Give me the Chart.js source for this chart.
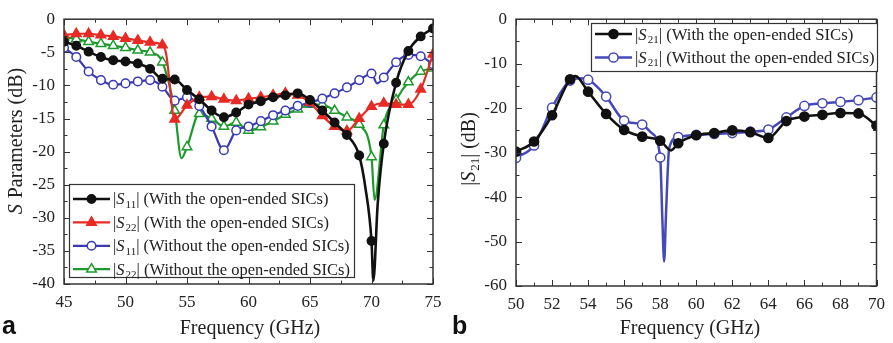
<!DOCTYPE html>
<html>
<head>
<meta charset="utf-8">
<script src="https://cdn.jsdelivr.net/npm/chart.js@4.4.1/dist/chart.umd.min.js"></script>
<style>
  html, body { margin: 0; padding: 0; background: #fff; }
  #wrap { position: relative; width: 893px; height: 343px; overflow: hidden; }
  canvas { position: absolute; top: 0; }
  #chartA { left: 0; }
  #chartB { left: 450px; }
</style>
</head>
<body>
<div id="wrap">
  <canvas id="chartA" width="450" height="343"></canvas>
  <canvas id="chartB" width="443" height="343"></canvas>
</div>
<script>
// ---- panel (a): reflection, frequency in GHz, values in dB ----
const s11WithFreq = [45, 46, 47, 48, 49, 50, 51, 52, 53, 54, 55, 56, 57, 58, 59, 60, 61, 62, 63, 64, 65, 66, 67, 68, 69, 69.5, 70, 70.15, 70.5, 71, 72, 73, 74, 75];
const s11WithDb = [-3.4, -4.0, -4.9, -5.7, -6.2, -6.4, -6.7, -7.5, -9.0, -9.1, -10.7, -12.1, -13.8, -14.8, -14.1, -12.9, -12.4, -11.8, -11.5, -11.2, -12.2, -13.8, -15.6, -17.5, -20.6, -25.4, -33.5, -39.5, -28.0, -18.8, -9.6, -4.8, -2.6, -1.4];

const s22WithFreq = [45, 46, 47, 48, 49, 50, 51, 52, 53, 53.3, 54, 55, 56, 57, 58, 59, 60, 61, 62, 63, 64, 65, 66, 67, 68, 69, 70, 71, 72, 73, 74, 75];
const s22WithDb = [-2.4, -2.2, -2.2, -2.4, -2.6, -2.9, -3.2, -3.5, -3.9, -5.2, -15.1, -13.0, -11.8, -11.7, -12.1, -12.3, -12.0, -11.8, -11.5, -11.2, -11.5, -12.6, -14.6, -16.2, -16.9, -15.0, -13.2, -12.7, -12.9, -12.9, -10.6, -5.3];

const s11WithoutFreq = [45, 46, 47, 48, 49, 50, 51, 52, 53, 54, 55, 56, 57, 58, 59, 60, 61, 62, 63, 64, 65, 66, 67, 68, 69, 70, 70.45, 71, 72, 73, 74, 75];
const s11WithoutDb = [-4.3, -5.7, -7.9, -9.2, -9.9, -9.7, -9.4, -9.2, -10.2, -12.3, -11.8, -13.1, -16.2, -19.8, -16.8, -16.2, -15.4, -14.5, -13.8, -13.1, -12.6, -12.0, -11.2, -10.3, -9.2, -8.2, -9.7, -8.8, -6.5, -5.4, -5.6, -6.8];

const s22WithoutFreq = [45, 46, 47, 48, 49, 50, 51, 52, 53, 54, 54.55, 55, 56, 57, 58, 59, 60, 61, 62, 63, 64, 65, 66, 67, 68, 69, 70, 70.25, 71, 72, 73, 74, 75];
const s22WithoutDb = [-2.7, -3.0, -3.4, -3.7, -4.0, -4.3, -4.7, -5.0, -6.5, -13.8, -21.0, -19.3, -14.3, -15.0, -16.2, -15.6, -16.8, -16.3, -15.4, -14.4, -13.6, -12.9, -12.9, -13.8, -14.8, -15.9, -20.8, -27.3, -16.0, -12.2, -9.5, -7.9, -7.4];

const labelsA = [
  "|S11| (With the open-ended SICs)",
  "|S22| (With the open-ended SICs)",
  "|S11| (Without the open-ended SICs)",
  "|S22| (Without the open-ended SICs)",
];
const xTicksA = [45, 50, 55, 60, 65, 70, 75];
const yTicksA = [0, -5, -10, -15, -20, -25, -30, -35, -40];

// ---- panel (b): transmission ----
const s21WithFreq = [50, 51, 52, 53, 53.3, 54, 55, 56, 57, 58, 58.6, 59, 60, 61, 62, 63, 64, 65, 66, 67, 68, 69, 70];
const s21WithDb = [-29.8, -27.5, -21.6, -13.5, -12.8, -16.3, -21.3, -24.9, -26.4, -27.3, -29.5, -27.9, -26.1, -25.6, -25.0, -25.4, -26.7, -22.9, -21.9, -21.5, -21.1, -21.2, -23.9];

const s21WithoutFreq = [50, 51, 52, 53, 53.5, 54, 55, 56, 57, 57.5, 58, 58.12, 58.22, 58.32, 58.5, 59, 60, 61, 62, 63, 64, 65, 66, 67, 68, 69, 70];
const s21WithoutDb = [-31.2, -28.4, -19.9, -13.8, -13.3, -13.6, -17.4, -22.8, -23.7, -25.5, -31.1, -45.0, -54.5, -44.0, -29.0, -26.5, -26.0, -25.8, -25.6, -25.3, -24.8, -22.1, -19.5, -18.9, -18.6, -18.2, -17.6];

const labelsB = [
  "|S21| (With the open-ended SICs)",
  "|S21| (Without the open-ended SICs)",
];
const xTicksB = [50, 52, 54, 56, 58, 60, 62, 64, 66, 68, 70];
const yTicksB = [0, -10, -20, -30, -40, -50, -60];

const xTitle = "Frequency (GHz)";
const yTitleA = "S Parameters (dB)";
const yTitleB = "|S21| (dB)";

const SERIF = '"Liberation Serif", "Times New Roman", serif';

const toPoints = (xs, ys) => xs.map((x, i) => ({ x, y: ys[i] }));

// markers only on the whole-GHz samples, extra samples just shape the curve
function series(label, xs, ys, color, style, filled, width, r) {
  return {
    label,
    data: toPoints(xs, ys),
    borderColor: color,
    borderWidth: width,
    backgroundColor: color,
    pointStyle: style,
    markerRadius: r,
    pointRadius: (ctx) => (ctx.raw && Number.isInteger(ctx.raw.x) ? r : 0),
    pointHoverRadius: 0,
    pointBorderWidth: 1.5,
    pointBorderColor: color,
    pointBackgroundColor: filled ? color : "#fff",
    cubicInterpolationMode: "monotone",
    fill: false,
  };
}

// "S" italic, digits after it as subscript
function richParts(str) {
  const parts = [];
  const re = /\bS(\d*)(?![A-Za-z])/g;
  let last = 0, m;
  while ((m = re.exec(str))) {
    if (m.index > last) parts.push({ t: str.slice(last, m.index) });
    parts.push({ t: "S", italic: true });
    if (m[1]) parts.push({ t: m[1], sub: true });
    last = re.lastIndex;
  }
  if (last < str.length) parts.push({ t: str.slice(last) });
  return parts;
}

function drawRich(ctx, str, x, y, size, align) {
  const parts = richParts(str);
  const fontOf = (p) => (p.italic ? "italic " : "") + (p.sub ? Math.round(size * 0.66) : size) + "px " + SERIF;
  let w = 0;
  parts.forEach((p) => {
    ctx.font = fontOf(p);
    p.w = ctx.measureText(p.t).width + (p.italic ? 1 : 0);
    w += p.w;
  });
  let cx = align === "center" ? x - w / 2 : x;
  ctx.textAlign = "left";
  ctx.textBaseline = "alphabetic";
  const base = y + size * 0.33;
  parts.forEach((p) => {
    ctx.font = fontOf(p);
    ctx.fillText(p.t, cx, base + (p.sub ? size * 0.2 : 0));
    cx += p.w;
  });
}

function drawMarker(ctx, ds, x, y) {
  const r = ds.markerRadius;
  ctx.beginPath();
  if (ds.pointStyle === "triangle") {
    ctx.moveTo(x, y - r);
    ctx.lineTo(x + r * 0.866, y + r * 0.5);
    ctx.lineTo(x - r * 0.866, y + r * 0.5);
    ctx.closePath();
  } else {
    ctx.arc(x, y, r, 0, Math.PI * 2);
  }
  ctx.fillStyle = ds.pointBackgroundColor;
  ctx.fill();
  ctx.lineWidth = ds.pointBorderWidth;
  ctx.strokeStyle = ds.pointBorderColor;
  ctx.stroke();
}

const isMajor = (v, step) => Math.abs(v / step - Math.round(v / step)) < 1e-6;

// box around the plot with inward ticks on all four sides
const framePlugin = {
  id: "frame",
  afterDraw(chart, args, opts) {
    const { ctx, chartArea: a } = chart;
    const { x, y } = chart.scales;
    ctx.save();
    ctx.strokeStyle = "#333";
    ctx.lineWidth = 1;
    ctx.beginPath();
    for (let v = x.min; v <= x.max + 1e-9; v += opts.xMinor) {
      const px = Math.round(x.getPixelForValue(v)) + 0.5;
      const len = isMajor(v, opts.xMajor) ? 6 : 3.5;
      ctx.moveTo(px, a.bottom); ctx.lineTo(px, a.bottom - len);
      ctx.moveTo(px, a.top); ctx.lineTo(px, a.top + len);
    }
    for (let v = y.min; v <= y.max + 1e-9; v += opts.yMinor) {
      const py = Math.round(y.getPixelForValue(v)) + 0.5;
      const len = isMajor(v, opts.yMajor) ? 6 : 3.5;
      ctx.moveTo(a.left, py); ctx.lineTo(a.left + len, py);
      ctx.moveTo(a.right, py); ctx.lineTo(a.right - len, py);
    }
    ctx.stroke();
    ctx.lineWidth = 1.5;
    ctx.strokeRect(a.left, a.top, a.right - a.left, a.bottom - a.top);
    ctx.restore();
  },
};

// legend box, axis titles and panel letter
const panelPlugin = {
  id: "panel",
  afterDraw(chart, args, opts) {
    const ctx = chart.ctx;
    ctx.save();
    const lg = opts.legend;
    ctx.fillStyle = "#fff";
    ctx.fillRect(lg.left, lg.top, lg.width, lg.height);
    ctx.strokeStyle = "#333";
    ctx.lineWidth = 1.2;
    ctx.strokeRect(lg.left + 0.5, lg.top + 0.5, lg.width, lg.height);
    chart.data.datasets.forEach((ds, i) => {
      const cy = lg.top + lg.firstRow + i * lg.rowGap;
      const x0 = lg.left + 4;
      ctx.strokeStyle = ds.borderColor;
      ctx.lineWidth = ds.borderWidth;
      ctx.beginPath();
      ctx.moveTo(x0, cy);
      ctx.lineTo(x0 + lg.sample, cy);
      ctx.stroke();
      drawMarker(ctx, ds, x0 + lg.sample / 2, cy);
      ctx.fillStyle = "#222";
      drawRich(ctx, ds.label, x0 + lg.sample + 3, cy, lg.font, "left");
    });

    ctx.fillStyle = "#222";
    drawRich(ctx, xTitle, opts.xTitle.x, opts.xTitle.y, 20, "center");
    ctx.save();
    ctx.translate(opts.yTitle.x, opts.yTitle.y);
    ctx.rotate(-Math.PI / 2);
    drawRich(ctx, opts.yTitle.text, 0, 0, 20, "center");
    ctx.restore();

    ctx.fillStyle = "#111";
    ctx.font = 'bold 25px "Liberation Sans", Arial, sans-serif';
    ctx.textAlign = "left";
    ctx.textBaseline = "alphabetic";
    ctx.fillText(opts.letter.text, opts.letter.x, opts.letter.y);
    ctx.restore();
  },
};

function makeChart(id, datasets, cfg) {
  const tickFont = { family: SERIF, size: 17 };
  return new Chart(document.getElementById(id), {
    type: "line",
    data: { datasets },
    options: {
      responsive: false,
      animation: false,
      devicePixelRatio: 1,
      layout: { padding: { top: cfg.top, right: cfg.right, left: 0, bottom: 0 } },
      plugins: {
        legend: { display: false },
        tooltip: { enabled: false },
        frame: cfg.frame,
        panel: cfg.panel,
      },
      scales: {
        x: {
          type: "linear",
          min: Math.min(...cfg.xTicks),
          max: Math.max(...cfg.xTicks),
          grid: { display: false, drawTicks: false },
          border: { display: false },
          ticks: { font: tickFont, color: "#222", padding: 8, maxRotation: 0, autoSkip: false, callback: (v) => String(v) },
          afterBuildTicks: (s) => { s.ticks = cfg.xTicks.map((v) => ({ value: v })); },
          afterFit: (s) => { s.height = cfg.xAxisH; },
        },
        y: {
          type: "linear",
          min: Math.min(...cfg.yTicks),
          max: Math.max(...cfg.yTicks),
          grid: { display: false, drawTicks: false },
          border: { display: false },
          ticks: { font: tickFont, color: "#222", padding: 9, autoSkip: false, callback: (v) => String(v) },
          afterBuildTicks: (s) => { s.ticks = cfg.yTicks.map((v) => ({ value: v })); },
          afterFit: (s) => { s.width = cfg.yAxisW; },
        },
      },
    },
    plugins: [framePlugin, panelPlugin],
  });
}

const BLACK = "#111", RED = "#e82a24", BLUE = "#3a3ab4", GREEN = "#1c9a2c", BLUE_B = "#4548b8";

makeChart("chartA", [
  series(labelsA[0], s11WithFreq, s11WithDb, BLACK, "circle", true, 2.6, 4.2),
  series(labelsA[1], s22WithFreq, s22WithDb, RED, "triangle", true, 2.2, 5.5),
  series(labelsA[2], s11WithoutFreq, s11WithoutDb, BLUE, "circle", false, 2.2, 4.3),
  series(labelsA[3], s22WithoutFreq, s22WithoutDb, GREEN, "triangle", false, 2.2, 5.5),
], {
  top: 12, right: 17, xAxisH: 59, yAxisW: 64,
  xTicks: xTicksA, yTicks: yTicksA,
  frame: { xMajor: 5, xMinor: 2.5, yMajor: 5, yMinor: 2.5 },
  panel: {
    legend: { left: 69, top: 184, width: 285, height: 93, firstRow: 15, rowGap: 23.4, sample: 37, font: 16.5 },
    xTitle: { x: 250, y: 327 },
    yTitle: { text: yTitleA, x: 15, y: 141 },
    letter: { text: "a", x: 2, y: 334 },
  },
});

makeChart("chartB", [
  series(labelsB[0], s21WithFreq, s21WithDb, BLACK, "circle", true, 2.6, 4.6),
  series(labelsB[1], s21WithoutFreq, s21WithoutDb, BLUE_B, "circle", false, 2.5, 4.6),
], {
  top: 14, right: 11, xAxisH: 57, yAxisW: 66,
  xTicks: xTicksB, yTicks: yTicksB,
  frame: { xMajor: 2, xMinor: 1, yMajor: 10, yMinor: 5 },
  panel: {
    legend: { left: 141, top: 23, width: 286, height: 48, firstRow: 11, rowGap: 23.5, sample: 37, font: 16.7 },
    xTitle: { x: 240, y: 327 },
    yTitle: { text: yTitleB, x: 18, y: 149 },
    letter: { text: "b", x: 2, y: 334 },
  },
});
</script>
</body>
</html>
